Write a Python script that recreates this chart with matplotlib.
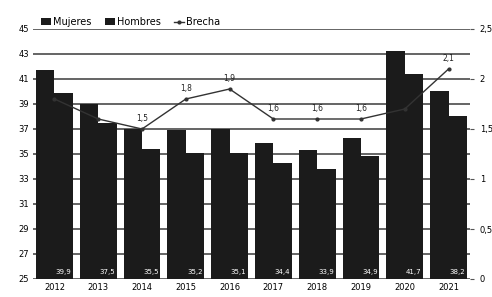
import matplotlib.pyplot as plt
import numpy as np

years = ['2012', '2013', '2014', '2015', '2016', '2017', '2018', '2019', '2020', '2021']
mujeres = [41.7, 39.0, 37.0, 36.9, 37.0, 35.9, 35.3, 36.3, 43.2, 40.0]
hombres = [39.9, 37.5, 35.4, 35.1, 35.1, 34.3, 33.8, 34.8, 41.4, 38.0]
hombres_labels = ['39,9', '37,5', '35,5', '35,2', '35,1', '34,4', '33,9', '34,9', '41,7', '38,2']
brecha = [1.8, 1.6, 1.5, 1.8, 1.9, 1.6, 1.6, 1.6, 1.7, 2.1]
brecha_labels = ['', '', '1,5', '1,8', '1,9', '1,6', '1,6', '1,6', '', '2,1']

plt.rcParams['font.family'] = 'DejaVu Sans'
fig = plt.figure(figsize=(4.92, 2.97), dpi=100)
ax = fig.add_axes([33 / 492, 18 / 297, 437 / 492, 250 / 297])
x = np.arange(len(years))
w = 0.42

ax.set_ylim(25, 45)
ax.set_xlim(-0.49, 9.49)
ax.set_yticks(np.arange(25, 46, 2))
ax.grid(axis='y', color='#3a3a3a', linewidth=1.1)
ax.set_axisbelow(True)

b1 = ax.bar(x - w / 2, mujeres, w, color='#1b1b1b', label='Mujeres', zorder=2)
b2 = ax.bar(x + w / 2, hombres, w, color='#1b1b1b', label='Hombres', zorder=2)
for xi, lab in zip(x, hombres_labels):
    ax.text(xi + w / 2 + 0.17, 25.3, lab, color='white', fontsize=5, ha='right', va='bottom', zorder=3)

ax.set_xticks(x)
ax.set_xticklabels(years, fontsize=6)
ax.tick_params(axis='both', length=0, labelsize=6, pad=3)
for s in ax.spines.values():
    s.set_visible(False)

ax2 = ax.twinx()
ax2.set_ylim(0, 2.5)
ax2.set_yticks([0, 0.5, 1, 1.5, 2, 2.5])
ax2.set_yticklabels(['0', '0,5', '1', '1,5', '2', '2,5'], fontsize=6)
ax2.tick_params(axis='y', length=3, width=0.8, color='#555555', pad=4)
for s in ax2.spines.values():
    s.set_visible(False)
ln, = ax2.plot(x, brecha, color='#333333', linewidth=1.0, marker='o', markersize=2, label='Brecha', zorder=4)
for xi, v, lab in zip(x, brecha, brecha_labels):
    if lab:
        ax2.text(xi, v + 0.06, lab, fontsize=5.5, ha='center', va='bottom', color='#222222')

ax.legend(handles=[b1, b2, ln], loc='lower left', bbox_to_anchor=(0.015, 1.0), ncol=3,
          frameon=False, fontsize=7, handlelength=1.0, handletextpad=0.2,
          columnspacing=1.4, borderaxespad=0.1, borderpad=0.1)

fig.savefig('out.png', dpi=100)
